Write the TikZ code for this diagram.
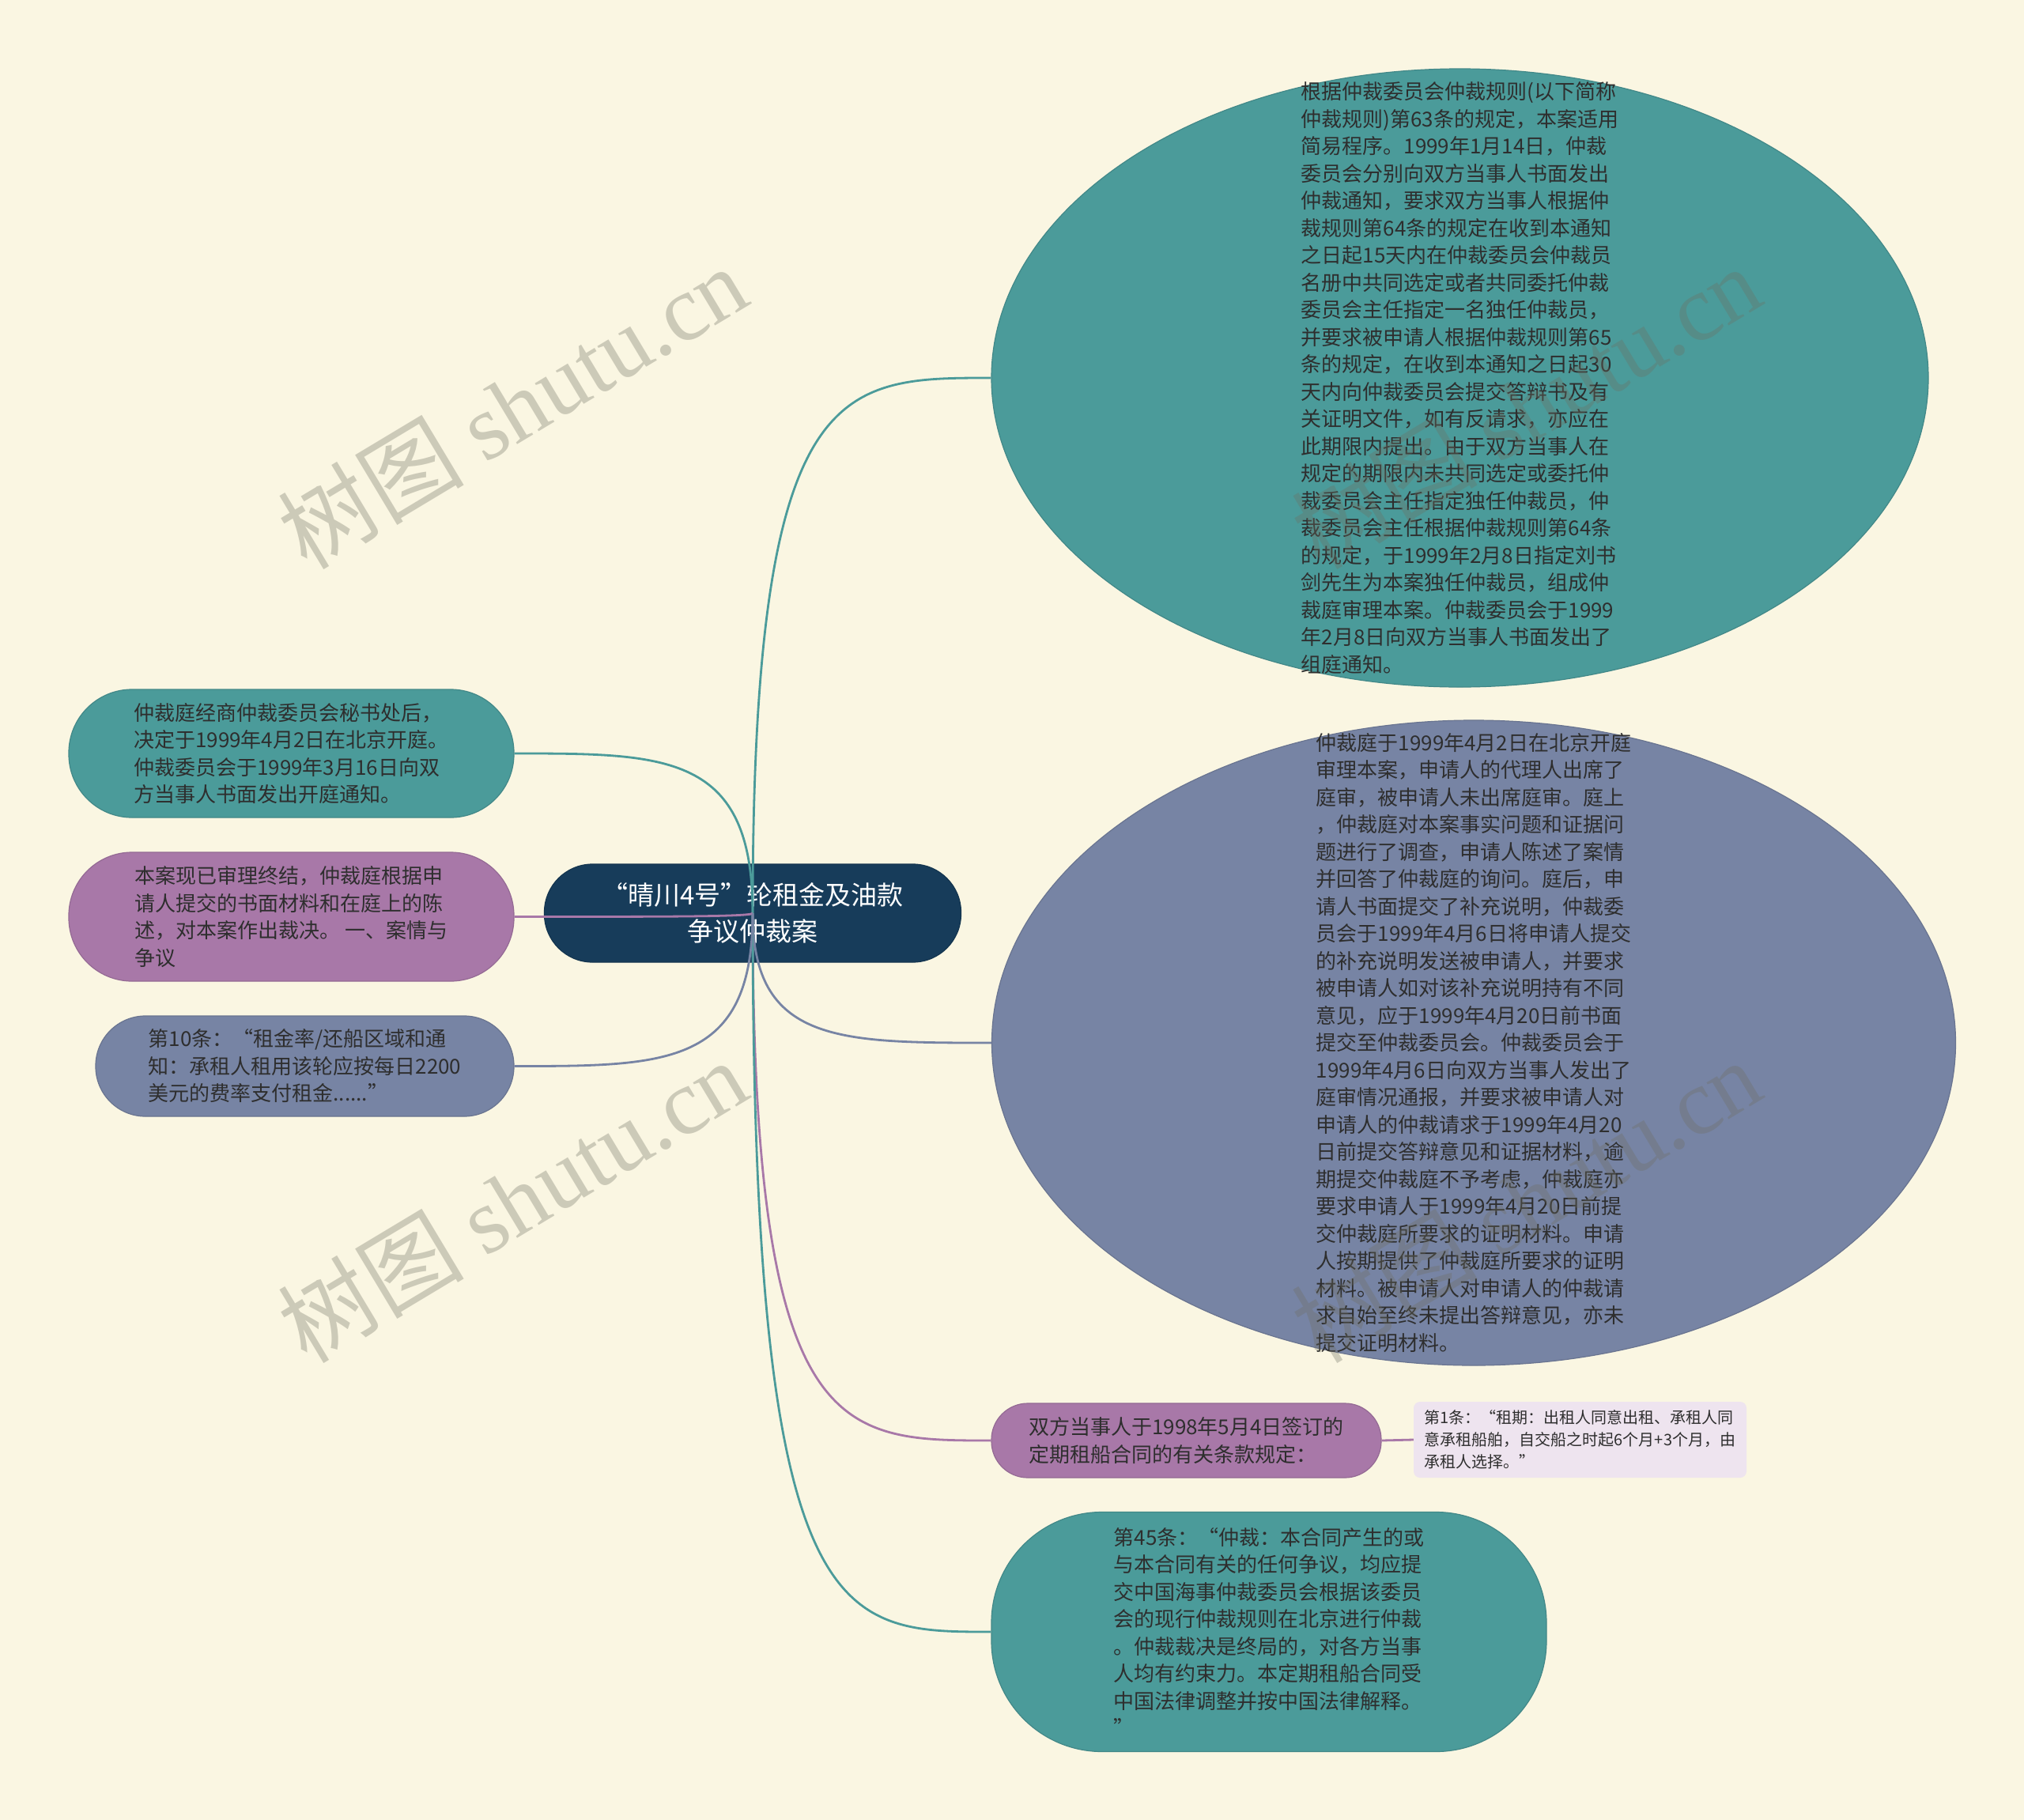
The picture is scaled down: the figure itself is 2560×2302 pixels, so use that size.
\documentclass[tikz,border=0pt]{standalone}
\usepackage{fontspec}
\setmainfont{Noto Sans CJK SC}
\newfontfamily\wmlatin{Liberation Serif}
\usetikzlibrary{shapes.geometric,calc}
\definecolor{bgc}{HTML}{FAF6E2}
\definecolor{tealc}{HTML}{4B9B9A}
\definecolor{slatec}{HTML}{7784A4}
\definecolor{purplec}{HTML}{A878A8}
\definecolor{navyc}{HTML}{173C5A}
\definecolor{lavc}{HTML}{EEE4EF}
\definecolor{txtc}{HTML}{2E2E2E}
\definecolor{wmc}{HTML}{6E6E60}
\tikzset{
  box/.style={draw=#1!88!black, fill=#1, line width=1.2pt, inner sep=0pt},
  body/.style={text=txtc, font=\fontsize{26pt}{34.5pt}\selectfont, align=left, inner sep=0pt},
  conn/.style={line width=2.8pt},
  wm/.style={text=wmc, opacity=0.32, rotate=31, inner sep=0pt, font=\fontsize{118pt}{118pt}\selectfont}
}
\newcommand{\hubconn}[3]{% color, target node, anchor
  \draw[conn, #1] (c.center) .. controls (c.center |- #2.#3) and ($(c.center |- #2.#3)!0.36!(#2.#3)$) .. (#2.#3);}
\begin{document}
\begin{tikzpicture}[x=1pt,y=-1pt]
\useasboundingbox (0,0) rectangle (2560,2302);
\fill[bgc] (0,0) rectangle (2560,2302);

% right ellipses
\node[box=tealc, ellipse, minimum width=1185pt, minimum height=782pt] (r1) at (1846.5,478) {};
\node[body] (r1t) at (r1.center) {根据仲裁委员会仲裁规则(以下简称\\
仲裁规则)第63条的规定，本案适用\\
简易程序。1999年1月14日，仲裁\\
委员会分别向双方当事人书面发出\\
仲裁通知，要求双方当事人根据仲\\
裁规则第64条的规定在收到本通知\\
之日起15天内在仲裁委员会仲裁员\\
名册中共同选定或者共同委托仲裁\\
委员会主任指定一名独任仲裁员，\\
并要求被申请人根据仲裁规则第65\\
条的规定，在收到本通知之日起30\\
天内向仲裁委员会提交答辩书及有\\
关证明文件，如有反请求，亦应在\\
此期限内提出。由于双方当事人在\\
规定的期限内未共同选定或委托仲\\
裁委员会主任指定独任仲裁员，仲\\
裁委员会主任根据仲裁规则第64条\\
的规定，于1999年2月8日指定刘书\\
剑先生为本案独任仲裁员，组成仲\\
裁庭审理本案。仲裁委员会于1999\\
年2月8日向双方当事人书面发出了\\
组庭通知。};

\node[box=slatec, ellipse, minimum width=1219pt, minimum height=816pt] (r2) at (1864,1319) {};
\node[body] (r2t) at (r2.center) {仲裁庭于1999年4月2日在北京开庭\\
审理本案，申请人的代理人出席了\\
庭审，被申请人未出席庭审。庭上\\
，仲裁庭对本案事实问题和证据问\\
题进行了调查，申请人陈述了案情\\
并回答了仲裁庭的询问。庭后，申\\
请人书面提交了补充说明，仲裁委\\
员会于1999年4月6日将申请人提交\\
的补充说明发送被申请人，并要求\\
被申请人如对该补充说明持有不同\\
意见，应于1999年4月20日前书面\\
提交至仲裁委员会。仲裁委员会于\\
1999年4月6日向双方当事人发出了\\
庭审情况通报，并要求被申请人对\\
申请人的仲裁请求于1999年4月20\\
日前提交答辩意见和证据材料，逾\\
期提交仲裁庭不予考虑，仲裁庭亦\\
要求申请人于1999年4月20日前提\\
交仲裁庭所要求的证明材料。申请\\
人按期提供了仲裁庭所要求的证明\\
材料。被申请人对申请人的仲裁请\\
求自始至终未提出答辩意见，亦未\\
提交证明材料。};

% right lower nodes
\node[box=purplec, body, rounded corners=46pt, minimum width=493pt, minimum height=94pt] (r3) at (1500.5,1822) {双方当事人于1998年5月4日签订的\\定期租船合同的有关条款规定：};
\node[fill=lavc, rounded corners=8pt, minimum width=421pt, minimum height=96pt, inner sep=0pt, text=txtc, align=left, font=\fontsize{20pt}{28pt}\selectfont] (r3a) at (1998.5,1821) {第1条：“租期：出租人同意出租、承租人同\\意承租船舶，自交船之时起6个月+3个月，由\\承租人选择。”};
\node[box=tealc, body, rounded corners=140pt, minimum width=702pt, minimum height=303pt] (r4) at (1605,2064) {第45条：“仲裁：本合同产生的或\\
与本合同有关的任何争议，均应提\\
交中国海事仲裁委员会根据该委员\\
会的现行仲裁规则在北京进行仲裁\\
。仲裁裁决是终局的，对各方当事\\
人均有约束力。本定期租船合同受\\
中国法律调整并按中国法律解释。\\
”};

% left nodes
\node[box=tealc, body, rounded corners=80pt, minimum width=563pt, minimum height=162pt] (l1) at (368.5,953) {仲裁庭经商仲裁委员会秘书处后，\\决定于1999年4月2日在北京开庭。\\仲裁委员会于1999年3月16日向双\\方当事人书面发出开庭通知。};
\node[box=purplec, body, rounded corners=80pt, minimum width=563pt, minimum height=163pt] (l2) at (368.5,1159.5) {本案现已审理终结，仲裁庭根据申\\请人提交的书面材料和在庭上的陈\\述，对本案作出裁决。 一、案情与\\争议};
\node[box=slatec, body, rounded corners=63pt, minimum width=529pt, minimum height=127pt] (l3) at (385.5,1348.5) {第10条：“租金率/还船区域和通\\知：承租人租用该轮应按每日2200\\美元的费率支付租金......”};

% central node
\node[box=navyc, rounded corners=61pt, minimum width=527pt, minimum height=124pt, text=white, align=center, font=\fontsize{33pt}{46pt}\selectfont] (c) at (952,1155) {“晴川4号”轮租金及油款\\争议仲裁案};

% connectors
\hubconn{tealc}{r1}{west}
\hubconn{slatec}{r2}{west}
\hubconn{purplec}{r3}{west}
\hubconn{tealc}{r4}{west}
\hubconn{tealc}{l1}{east}
\hubconn{purplec}{l2}{east}
\hubconn{slatec}{l3}{east}
\draw[conn, purplec] (r3.east) -- (r3a.west);

% watermarks
\node[wm] (wm1) at (648,514) {树图 {\wmlatin shutu.cn}};
\node[wm] (wm2) at (648,1518) {树图 {\wmlatin shutu.cn}};
\node[wm] (wm3) at (1930,514) {树图 {\wmlatin shutu.cn}};
\node[wm] (wm4) at (1930,1518) {树图 {\wmlatin shutu.cn}};
\end{tikzpicture}
\end{document}
